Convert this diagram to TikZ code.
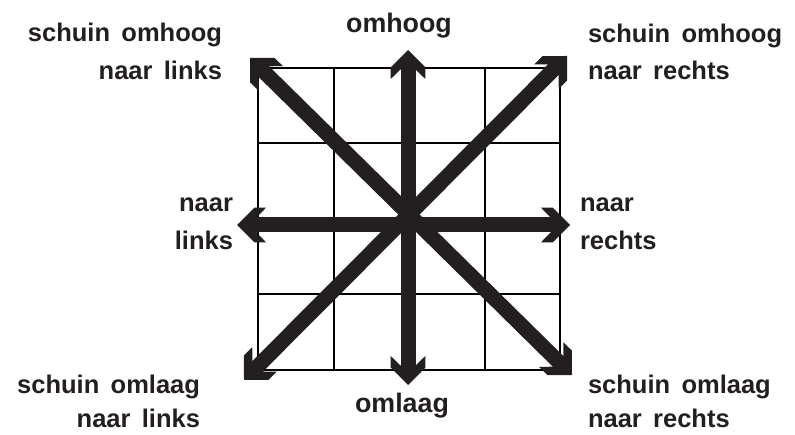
\documentclass[tikz,border=0pt]{standalone}
\usepackage{fontspec}
\setmainfont{Liberation Sans}[WordSpace=1.6]
\usetikzlibrary{arrows.meta}
\definecolor{ink}{RGB}{35,31,32}
\pgfdeclarearrow{
  name = Chev,
  setup code = {
    \pgfarrowssettipend{0pt}
    \pgfarrowssetbackend{-29pt}
    \pgfarrowssetlineend{-18pt}
    \pgfarrowsupperhullpoint{0pt}{0pt}
    \pgfarrowsupperhullpoint{-17.3pt}{17.3pt}
    \pgfarrowsupperhullpoint{-29pt}{17.3pt}
  },
  drawing code = {
    \pgfpathmoveto{\pgfqpoint{0pt}{0pt}}
    \pgfpathlineto{\pgfqpoint{-17.3pt}{17.3pt}}
    \pgfpathlineto{\pgfqpoint{-29pt}{17.3pt}}
    \pgfpathlineto{\pgfqpoint{-19.5pt}{7.5pt}}
    \pgfpathlineto{\pgfqpoint{-19.5pt}{-7.5pt}}
    \pgfpathlineto{\pgfqpoint{-29pt}{-17.3pt}}
    \pgfpathlineto{\pgfqpoint{-17.3pt}{-17.3pt}}
    \pgfpathclose
    \pgfusepathqfill
  }
}
\tikzset{
  lbl/.style={inner sep=0pt, outer sep=0pt, text=ink, font=\fontsize{25.5}{30}\selectfont\bfseries},
  clbl/.style={lbl, font=\fontsize{26.8}{30}\selectfont\bfseries},
  gridline/.style={draw=black, line width=2pt},
  bigarrow/.style={draw=ink, fill=ink, line width=15pt, line cap=butt, {Chev}-{Chev}}
}
\begin{document}
\begin{tikzpicture}[x=1pt,y=-1pt]
\useasboundingbox (0,0) rectangle (795,435);
% grid
\foreach \i in {0,...,4} {
  \draw[gridline] ({258+75.5*\i},68) -- ({258+75.5*\i},370);
  \draw[gridline] (258,{68+75.5*\i}) -- (560,{68+75.5*\i});
}
% arrow end points
\coordinate (pU) at (408,50);
\coordinate (pD) at (408,385);
\coordinate (pL) at (237,225);
\coordinate (pR) at (570,225);
\coordinate (pTL) at (250,58);
\coordinate (pBR) at (572,375);
\coordinate (pTR) at (567,56);
\coordinate (pBL) at (244,380);
\draw[bigarrow] (pD) -- (pU);
\draw[bigarrow] (pL) -- (pR);
\draw[bigarrow] (pTL) -- (pBR);
\draw[bigarrow] (pBL) -- (pTR);
% labels
\node[lbl, anchor=base east] (tlA) at (222,42) {schuin omhoog};
\node[lbl, anchor=base east] (tlB) at (222,80) {naar links};
\node[clbl, anchor=base] (up) at (399,33) {omhoog};
\node[lbl, anchor=base west] (trA) at (588,43) {schuin omhoog};
\node[lbl, anchor=base west] (trB) at (588,80) {naar rechts};
\node[lbl, anchor=base east] (lA) at (233,212) {naar};
\node[lbl, anchor=base east] (lB) at (233,250) {links};
\node[lbl, anchor=base west] (rA) at (580,212) {naar};
\node[lbl, anchor=base west] (rB) at (580,250) {rechts};
\node[lbl, anchor=base east] (blA) at (200,393) {schuin omlaag};
\node[lbl, anchor=base east] (blB) at (200,428) {naar links};
\node[clbl, anchor=base] (down) at (402,413) {omlaag};
\node[lbl, anchor=base west] (brA) at (588,393) {schuin omlaag};
\node[lbl, anchor=base west] (brB) at (588,428) {naar rechts};
\end{tikzpicture}
\end{document}
